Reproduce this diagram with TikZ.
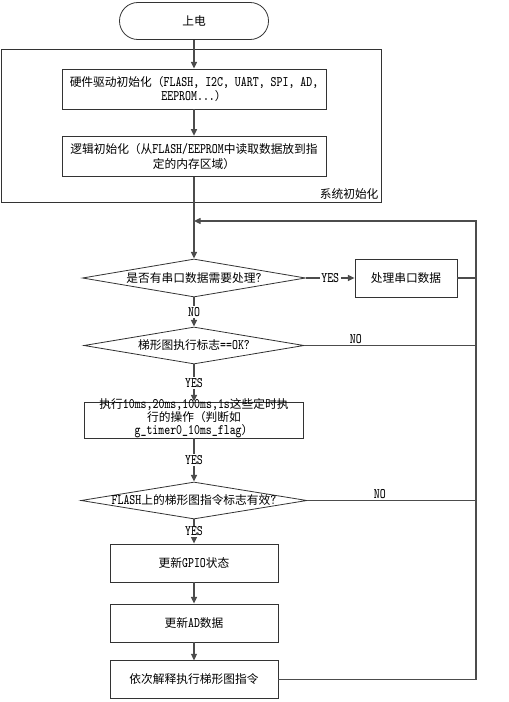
\documentclass[tikz,border=0pt]{standalone}
\usepackage{fontspec}
\usepackage{graphicx}
\setmainfont{Noto Sans CJK SC}
\usetikzlibrary{arrows.meta,shapes.geometric}
\colorlet{FlowLine}{black!70}
\colorlet{FlowEdge}{black!80}
\newcommand{\entxt}[1]{{\ttfamily\fontsize{8.4pt}{11pt}\selectfont\scalebox{1}[1.3]{#1}}}

\begin{document}
\begin{tikzpicture}[
    x=0.75pt,y=-0.75pt,
    font=\fontsize{8.8pt}{11pt}\selectfont,
    box/.style={draw=FlowEdge,line width=0.6pt,align=center,inner sep=2pt},
    decision/.style={draw=FlowEdge,line width=0.6pt,shape=diamond,aspect=1,inner sep=0pt},
    lbl/.style={fill=white,inner sep=1pt},
    line/.style={draw=FlowLine,line width=1pt},
    flow/.style={line,-{Triangle[length=5pt,width=4.5pt]}}
  ]
    \useasboundingbox (0,0) rectangle (509,702);
    % start and init frame
    \node[box,rounded corners=13.8pt,minimum width=111.75pt,minimum height=27.75pt] (start) at (194,21) {上电};
    \node[draw=FlowEdge,line width=0.6pt,minimum width=285pt,minimum height=114.75pt] (sysinit) at (191,125.5) {};
    \node[anchor=south east,inner sep=2pt] (sysinitlbl) at (sysinit.south east) {系统初始化};
    \node[box,minimum width=198pt,minimum height=30pt] (hw) at (194,89)
      {硬件驱动初始化（\entxt{FLASH, I2C, UART, SPI, AD,}\\\entxt{EEPROM...}）};
    \node[box,minimum width=198pt,minimum height=30.5pt] (logic) at (194,156.5)
      {逻辑初始化（从\entxt{FLASH/EEPROM}中读取数据放到指\\定的内存区域）};
    % main loop
    \coordinate (merge) at (194,221);
    \coordinate (looptop) at (476,221);
    \node[decision,minimum width=167.25pt,minimum height=28.5pt] (d1) at (194,278)
      {\makebox[0pt]{是否有串口数据需要处理\entxt{?}}};
    \node[box,minimum width=76.5pt,minimum height=28.5pt] (serial) at (406,278) {处理串口数据};
    \node[decision,minimum width=165pt,minimum height=27.75pt] (d2) at (194,345.5)
      {\makebox[0pt]{梯形图执行标志\entxt{==OK?}}};
    \node[box,minimum width=153pt,minimum height=27pt] (timed) at (194,420)
      {\parbox[c][0pt][c]{160pt}{\centering\fontsize{8.8pt}{9.75pt}\selectfont
        执行\entxt{10ms,20ms,100ms,1s}这些定时执\\行的操作（判断如\\\entxt{g\_timer0\_10ms\_flag}）}};
    \node[decision,minimum width=169.5pt,minimum height=27.75pt] (d3) at (194,500.5)
      {\makebox[0pt]{\entxt{FLASH}上的梯形图指令标志有效\entxt{?}}};
    \node[box,minimum width=126pt,minimum height=28.5pt] (gpio) at (194,563) {更新\entxt{GPIO}状态};
    \node[box,minimum width=126pt,minimum height=28.5pt] (ad) at (194,623) {更新\entxt{AD}数据};
    \node[box,minimum width=126pt,minimum height=28pt] (interp) at (194,679.5) {依次解释执行梯形图指令};
    % connectors
    \draw[flow] (start) -- (hw);
    \draw[flow] (hw) -- (logic);
    \draw[flow] (logic) -- (d1);
    \draw[flow] (d1) -- node[lbl]{\entxt{YES}} (serial);
    \draw[flow] (d1) -- node[lbl]{\entxt{NO}} (d2);
    \draw[flow] (d2) -- node[lbl]{\entxt{YES}} (timed);
    \draw[flow] (timed) -- node[lbl]{\entxt{YES}} (d3);
    \draw[flow] (d3) -- node[lbl]{\entxt{YES}} (gpio);
    \draw[flow] (gpio) -- (ad);
    \draw[flow] (ad) -- (interp);
    \draw[line] (serial.east) -- (serial.east -| looptop);
    \draw[line] (d2.east) -- node[lbl,above,fill=none,pos=0.3]{\entxt{NO}} (d2.east -| looptop);
    \draw[line] (d3.east) -- node[lbl,above,fill=none,pos=0.43]{\entxt{NO}} (d3.east -| looptop);
    \draw[flow] (interp.east) -- (interp.east -| looptop) -- (looptop) -- (merge);
  \end{tikzpicture}
\end{document}
